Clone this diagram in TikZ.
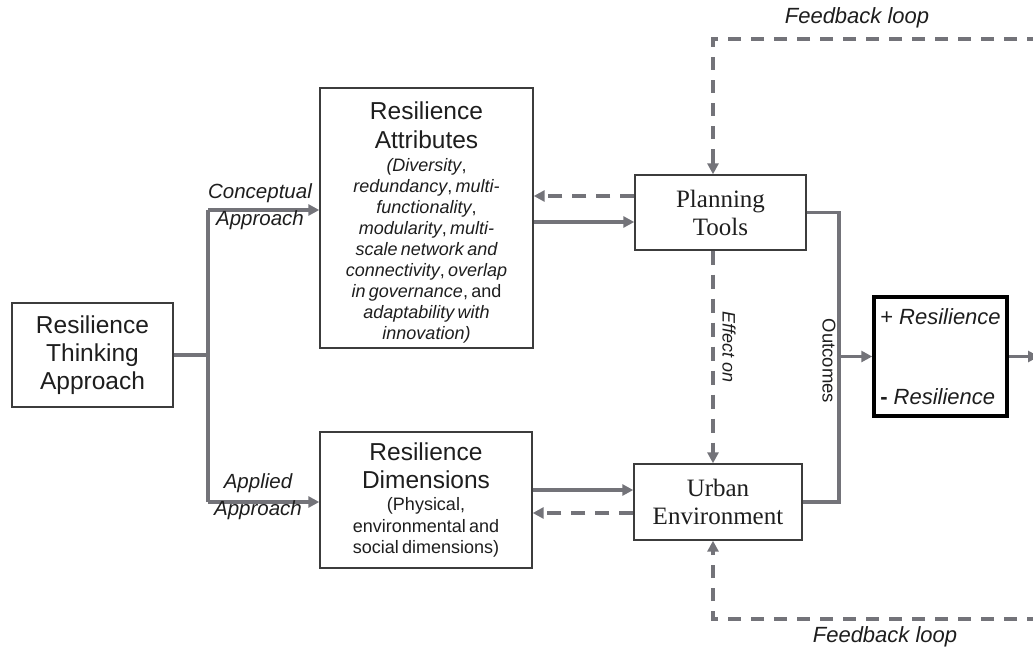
\documentclass[tikz,border=0pt]{standalone}
\usepackage{fontspec}
\setmainfont{Liberation Sans}
\newfontfamily\timesf{Liberation Serif}
\usetikzlibrary{arrows.meta}
\definecolor{ln}{RGB}{115,115,121}
\definecolor{bd}{RGB}{60,60,60}
\definecolor{tx}{RGB}{30,30,30}
\newcommand{\uc}{{\upshape,}}
\begin{document}
\begin{tikzpicture}[x=1pt,y=-1pt,
  box/.style={draw=bd,line width=1.4pt,fill=white,text=tx,inner sep=4pt},
  conn/.style={draw=ln,line width=3.3pt},
  arr/.style={conn,-{Triangle[length=11pt,width=11pt]}},
  dasharr/.style={arr,dash pattern=on 14pt off 10pt},
  dashline/.style={conn,dash pattern=on 13pt off 10pt},
  lbl/.style={text=tx,inner sep=0pt}]
\useasboundingbox (0,0) rectangle (1033,649);

% boxes
\node[box,minimum width=161pt,minimum height=104pt,align=center,
  font=\fontsize{24.5}{28}\selectfont] (rta) at (92.5,355) {Resilience\\Thinking\\Approach};

\node[box,minimum width=213pt,minimum height=260pt,text width=205pt,align=center] (attr) at (426.5,218)
 {\fontsize{24.5}{29}\selectfont\rule{0pt}{27pt}Resilience\\Attributes\par\vspace{2pt}
  \fontsize{18}{21}\selectfont\itshape (Diversity\uc\\ redundancy\uc{} multi-\\ functionality\uc\\
  modularity\uc{} multi-\\ scale network and\\ connectivity\uc{} overlap\\ in governance\uc{} \upshape and\\
  \itshape adaptability with\\ innovation)\par};

\node[box,minimum width=212pt,minimum height=136pt,text width=204pt,align=center] (dims) at (426,500)
 {\fontsize{24.5}{28}\selectfont Resilience\\Dimensions\par\vspace{1pt}
  \fontsize{18}{21.5}\selectfont (Physical,\\ environmental and\\ social dimensions)\par};

\node[box,minimum width=171pt,minimum height=75pt,align=center,
  font=\timesf\fontsize{25}{28}\selectfont] (plan) at (720.5,212.5) {Planning\\Tools};

\node[box,minimum width=168pt,minimum height=76pt,align=center,
  font=\timesf\fontsize{25}{28}\selectfont] (urban) at (718,502) {Urban\\Environment};

\node[draw=black,line width=3.5pt,fill=white,text=tx,minimum width=133pt,minimum height=119pt,
  align=left,inner sep=0pt,font=\fontsize{22}{80}\selectfont] (res) at (940.5,356.5)
  {+ \textit{Resilience}\\\textbf{-} \textit{Resilience}};

% helper coordinates
\coordinate (tj) at (208,355);
\coordinate (tt) at (208,210);
\coordinate (tb) at (208,502);
\coordinate (ex) at (713,0);
\coordinate (ox) at (839,356.5);
\coordinate (fbt) at (1040,39);
\coordinate (fbb) at (1040,619);
\coordinate (outend) at (1039,356.5);

% trunk
\draw[conn] (rta.east) -- (tj);
\draw[conn] (tt) -- (tb);
\draw[arr] (tt) -- (attr.west |- tt);
\draw[arr] (tb) -- (dims.west |- tb);

% attributes <-> planning
\draw[dasharr] (plan.west |- 0,196) -- (attr.east |- 0,196);
\draw[arr] (attr.east |- 0,222) -- (plan.west |- 0,222);

% dimensions <-> urban
\draw[arr] (dims.east |- 0,490) -- (urban.west |- 0,490);
\draw[dasharr] (urban.west |- 0,513) -- (dims.east |- 0,513);

% effect on
\draw[dasharr] (plan.south -| ex) -- (urban.north -| ex);

% feedback loops
\draw[dashline] (fbt) -| ([yshift=12pt]plan.north -| ex);
\draw[arr] ([yshift=12pt]plan.north -| ex) -- (plan.north -| ex);
\draw[dashline] (fbb) -| ([yshift=-12pt]urban.south -| ex);
\draw[arr] ([yshift=-12pt]urban.south -| ex) -- (urban.south -| ex);

% outcomes
\draw[conn] (plan.east) -| (ox) |- (urban.east);
\draw[arr] (ox) -- (res.west);
\draw[arr] (res.east) -- (outend);

% labels
\node[lbl,align=center,font=\itshape\fontsize{20.5}{27}\selectfont] (lc) at (260,207) {Conceptual\\Approach};
\node[lbl,align=center,font=\itshape\fontsize{20.5}{27}\selectfont] (la) at (258,497) {Applied\\Approach};
\node[lbl,font=\itshape\fontsize{22}{26}\selectfont] (lft) at (857,18) {Feedback loop};
\node[lbl,font=\itshape\fontsize{22}{26}\selectfont] (lfb) at (885,637) {Feedback loop};
\node[lbl,rotate=-90,font=\itshape\fontsize{18}{22}\selectfont] (leff) at (729,347) {Effect on};
\node[lbl,rotate=-90,font=\fontsize{18.5}{22}\selectfont] (lout) at (829,361) {Outcomes};
\end{tikzpicture}
\end{document}
